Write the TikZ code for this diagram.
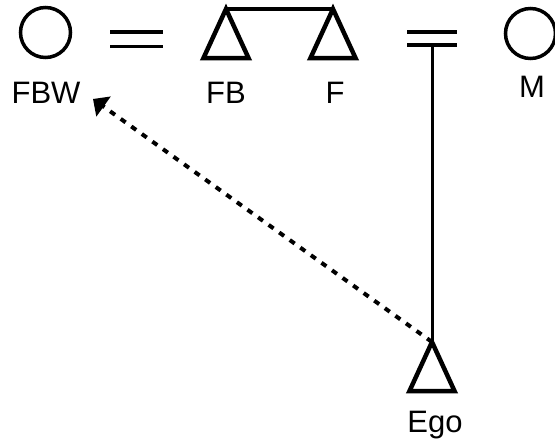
\documentclass[tikz,border=0pt]{standalone}
\usepackage{fontspec}
\setmainfont{Liberation Sans}
\usetikzlibrary{shapes.geometric,arrows.meta}
\tikzset{
  female/.style={draw, circle, line width=3.5pt, minimum size=50pt, inner sep=0pt, outer sep=0pt},
  male/.style={draw, isosceles triangle, shape border rotate=90, isosceles triangle stretches,
    minimum width=45pt, minimum height=49pt, inner sep=0pt, outer sep=0pt, line width=4.5pt, line join=miter},
  lbl/.style={font=\fontsize{31}{33}\selectfont, anchor=base, inner sep=0pt},
  marriage/.style={line width=3.5pt},
  sibling/.style={line width=4pt},
  descent/.style={line width=3pt},
  ref/.style={line width=4pt, dash pattern=on 6pt off 7pt, -{Triangle[width=24pt,length=13pt]}}
}
\begin{document}
\begin{tikzpicture}[x=1pt,y=-1pt]
\useasboundingbox (0,0) rectangle (555,447);
% persons
\node[female] (FBW) at (45.5,32.5) {};
\node[male, anchor=apex] (FB) at (226,9) {};
\node[male, anchor=apex] (F) at (333,9) {};
\node[female] (M) at (530.5,33.5) {};
\node[male, anchor=apex] (Ego) at (432,342) {};
% labels
\node[lbl] (tFBW) at (46,103) {FBW};
\node[lbl] (tFB) at (226,103) {FB};
\node[lbl] (tF) at (335,103) {F};
\node[lbl] (tM) at (532,97) {M};
\node[lbl] (tEgo) at (435,432) {Ego};
% marriage signs
\coordinate (m1l) at (110,32); \coordinate (m1r) at (163,32);
\coordinate (m1L) at (110,46.5); \coordinate (m1R) at (163,46.5);
\coordinate (m2l) at (407,32); \coordinate (m2r) at (457,32);
\coordinate (m2L) at (407,45); \coordinate (m2R) at (457,45);
\coordinate (m2c) at (432,45);
\draw[marriage] (m1l) -- (m1r);
\draw[marriage] (m1L) -- (m1R);
\draw[marriage] (m2l) -- (m2r);
\draw[marriage] (m2L) -- (m2R);
% sibling bar
\draw[sibling] (FB.apex) -- (F.apex);
% descent
\draw[descent] (m2c) -- (Ego.apex);
% reference arrow
\coordinate (tip) at (93,99);
\draw[ref] (Ego.apex) -- (tip);
\end{tikzpicture}
\end{document}
